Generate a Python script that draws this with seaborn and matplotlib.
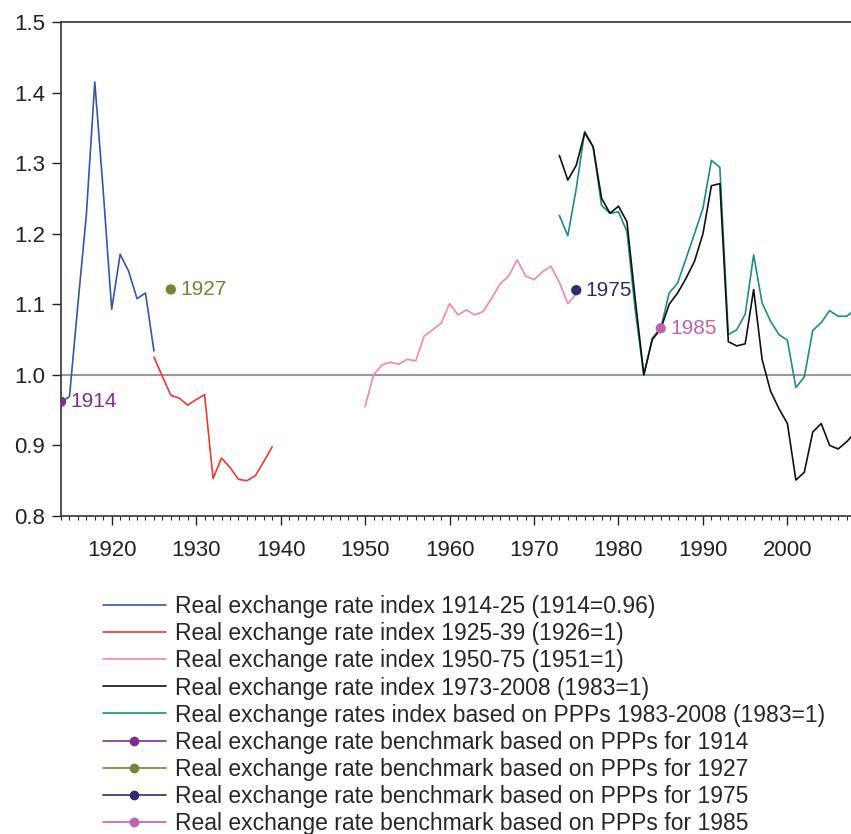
import numpy as np
import pandas as pd
import matplotlib
matplotlib.use("Agg")
import matplotlib.pyplot as plt
from matplotlib.lines import Line2D
from matplotlib.ticker import MultipleLocator
import seaborn as sns

# series
years_1 = list(range(1914, 1926))
rer_1914_25 = [0.962, 0.969, 1.10, 1.227, 1.415, 1.26, 1.093, 1.171, 1.147, 1.108, 1.116, 1.034]

years_2 = list(range(1925, 1940))
rer_1925_39 = [1.025, 0.998, 0.971, 0.967, 0.957, 0.965, 0.972, 0.853, 0.882, 0.869, 0.852, 0.850, 0.857, 0.877, 0.898]

years_3 = list(range(1950, 1976))
rer_1950_75 = [0.955, 1.000, 1.014, 1.018, 1.015, 1.022, 1.020, 1.055, 1.064, 1.073, 1.101, 1.085, 1.092,
               1.085, 1.090, 1.109, 1.129, 1.140, 1.163, 1.140, 1.135, 1.146, 1.154, 1.131, 1.101, 1.115]

years_4 = list(range(1973, 2009))
rer_1973_2008 = [1.311, 1.276, 1.297, 1.343, 1.323, 1.250, 1.229, 1.239, 1.217, 1.105, 1.000, 1.050,
                 1.065, 1.100, 1.116, 1.137, 1.161, 1.200, 1.268, 1.271, 1.047, 1.041, 1.044, 1.121,
                 1.022, 0.977, 0.952, 0.931, 0.851, 0.862, 0.919, 0.931, 0.900, 0.895, 0.905, 0.918]
ppp_1983_2008 = [1.226, 1.197, 1.264, 1.345, 1.323, 1.240, 1.229, 1.231, 1.203, 1.090, 1.000, 1.052,
                 1.066, 1.116, 1.130, 1.165, 1.200, 1.236, 1.304, 1.294, 1.057, 1.064, 1.086, 1.170,
                 1.102, 1.076, 1.057, 1.049, 0.982, 0.997, 1.063, 1.074, 1.091, 1.083, 1.083, 1.092]

bench_years = [1914, 1927, 1975, 1985]
bench_values = [0.962, 1.121, 1.120, 1.066]
bench_colors = ["#7E2F8E", "#7C8034", "#2E2C6E", "#C260B0"]

line_labels = [
    "Real exchange rate index 1914-25 (1914=0.96)",
    "Real exchange rate index 1925-39 (1926=1)",
    "Real exchange rate index 1950-75 (1951=1)",
    "Real exchange rate index 1973-2008 (1983=1)",
    "Real exchange rates index based on PPPs 1983-2008 (1983=1)",
]
line_colors = ["#3A55A8", "#EE3B2E", "#F484B4", "#111111", "#1E8C8A"]

sns.set_style("ticks")
plt.rcParams["font.family"] = ["Liberation Sans", "DejaVu Sans"]

fig = plt.figure(figsize=(8.51, 8.34), dpi=100)
ax = fig.add_axes([0.0717, 0.3813, 0.933, 0.5923])

ax.axhline(1.0, color="#999999", lw=1.5, zorder=1)

series = [(years_1, rer_1914_25), (years_2, rer_1925_39), (years_3, rer_1950_75),
          (years_4, ppp_1983_2008), (years_4, rer_1973_2008)]
colors_draw = [line_colors[0], line_colors[1], line_colors[2], line_colors[4], line_colors[3]]
for (xs, ys), c in zip(series, colors_draw):
    sns.lineplot(x=xs, y=ys, ax=ax, color=c, lw=1.2, zorder=2)

bench = pd.DataFrame({"year": bench_years, "value": bench_values})
sns.scatterplot(data=bench, x="year", y="value", hue="year", palette=bench_colors,
                s=55, edgecolor="none", legend=False, ax=ax, zorder=4)
for yr, v, c in zip(bench_years, bench_values, bench_colors):
    ax.text(yr + 1.1, v, str(yr), color=c, fontsize=15, va="center", ha="left")

ax.set_xlim(1914, 2008)
ax.set_ylim(0.8, 1.5)
ax.set_xticks(range(1920, 2001, 10))
ax.xaxis.set_minor_locator(MultipleLocator(1))
ax.set_yticks(np.arange(0.8, 1.51, 0.1))
ax.yaxis.set_major_formatter(matplotlib.ticker.FormatStrFormatter("%.1f"))
ax.tick_params(axis="both", labelsize=16, colors="#222222", length=6.5, width=1)
ax.tick_params(axis="x", which="minor", length=3, width=0.8)
ax.tick_params(axis="x", pad=11)
ax.tick_params(axis="y", pad=5)
ax.set_xlabel("")
ax.set_ylabel("")
for s in ["left", "bottom", "top"]:
    ax.spines[s].set_color("#333333")
    ax.spines[s].set_linewidth(1.2)
ax.spines["right"].set_visible(False)

handles = [Line2D([], [], color=c, lw=1.2) for c in line_colors]
handles += [Line2D([], [], color=c, lw=1.2, marker="o", markersize=6) for c in bench_colors]
labels = line_labels + [f"Real exchange rate benchmark based on PPPs for {y}" for y in bench_years]
fig.legend(handles, labels, loc="upper left", bbox_to_anchor=(0.121, 0.286), frameon=False,
           fontsize=16.5, handlelength=2.75, handletextpad=0.4, labelspacing=0.175,
           borderaxespad=0, borderpad=0)

fig.savefig("out.png", dpi=100)
